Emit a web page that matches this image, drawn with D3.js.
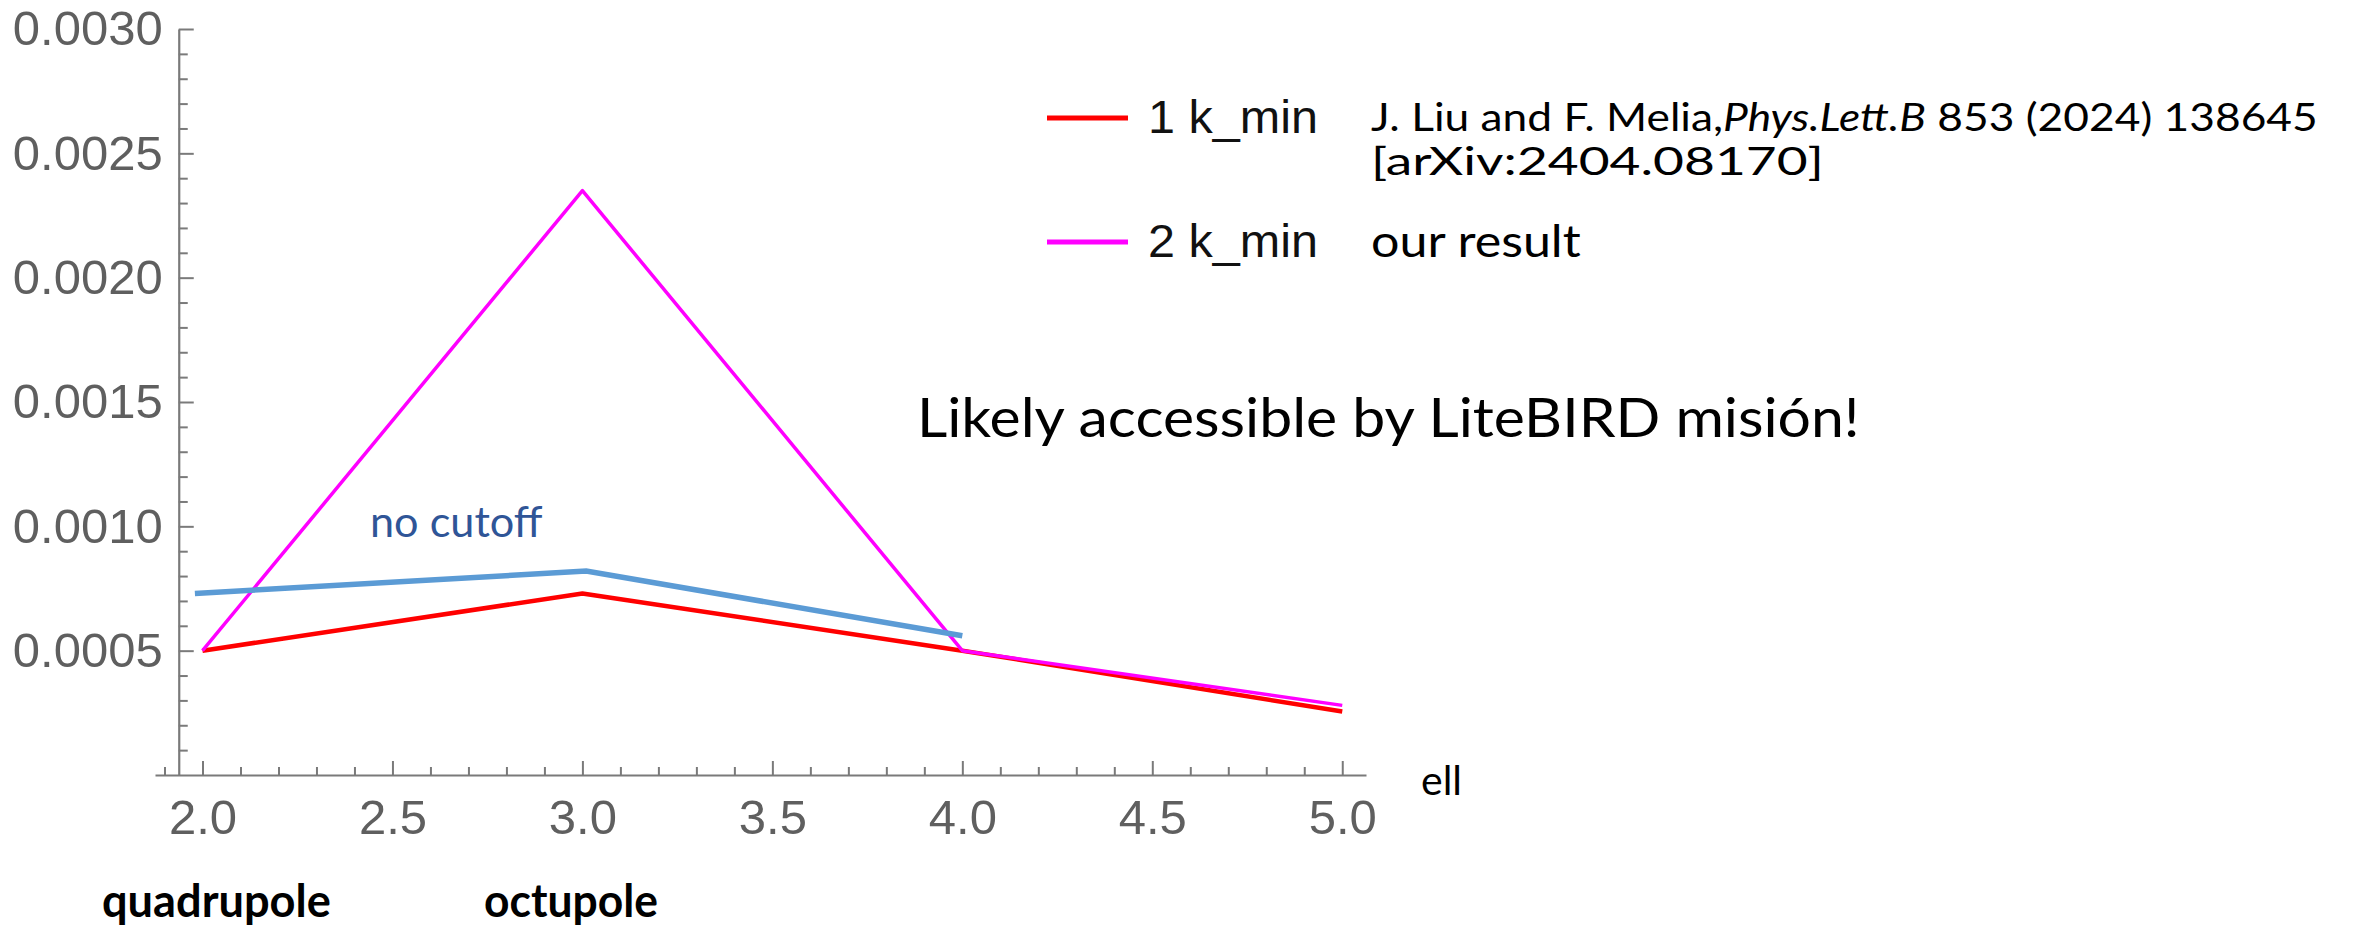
<!DOCTYPE html>
<html>
<head>
<meta charset="utf-8">
<script src="https://cdn.jsdelivr.net/npm/d3@7"></script>
<style>
  html, body { margin: 0; padding: 0; background: #fff; }
  .tick text { font-family: "Liberation Sans", Arial, sans-serif; fill: #5f5f5f; }
  .note { font-family: Lato, "Open Sans", sans-serif; }
</style>
</head>
<body>
<div id="chart"></div>
<script>
// ---- data ----
const ells = [2, 3, 4, 5];
const oneKmin = [0.0005, 0.00073, 0.0005, 0.000255];   // red, Liu & Melia
const twoKmin = [0.0005, 0.00235, 0.0005, 0.00028];    // magenta, our result
const noCutoffEll = [1.98, 3.01, 4.0];
const noCutoff = [0.00073, 0.00082, 0.00056];           // blue hand-drawn line
const xTicks = [2, 2.5, 3, 3.5, 4, 4.5, 5];
const yTicks = [0.0005, 0.001, 0.0015, 0.002, 0.0025, 0.003];

const W = 2356, H = 929;

const svg = d3.select('#chart').append('svg')
    .attr('width', W)
    .attr('height', H);

svg.append('rect').attr('width', W).attr('height', H).attr('fill', '#fff');

// Scales (axis runs a bit past both ends like Mathematica does)
const x = d3.scaleLinear().domain([1.875, 5.0625]).range([155, 1366]);
const y = d3.scaleLinear().domain([0, 0.003]).range([775, 29]);
const yAxisAt = 1.9375;

// stretch/squeeze a text horizontally so it spans the given width
function fitText(sel, x0, width) {
    const w = sel.node().getBBox().width;
    const s = width / w;
    sel.attr('transform', `translate(${x0},0) scale(${s},1) translate(${-x0},0)`);
}

// -------------- Axes --------------
const axisColor = '#7a7a7a';

const minorX = d3.range(19, 51).map(d => d / 10).filter(d => Math.abs(d * 2 - Math.round(d * 2)) > 1e-6);
const minorY = d3.range(1, 30).map(d => d / 10000).filter(d => d % 0.0005 > 1e-9 && 0.0005 - (d % 0.0005) > 1e-9);

const gx = svg.append('g').attr('transform', `translate(0,${y(0)})`);
gx.call(d3.axisBottom(x).tickValues(xTicks).tickFormat(d3.format('.1f'))
    .tickSizeInner(-14).tickSizeOuter(0).tickPadding(24));
gx.append('g').call(d3.axisBottom(x).tickValues(minorX).tickFormat('')
    .tickSizeInner(-8).tickSizeOuter(0))
  .select('.domain').remove();

const gy = svg.append('g').attr('transform', `translate(${x(yAxisAt)},0)`);
gy.call(d3.axisLeft(y).tickValues(yTicks).tickFormat(d3.format('.4f'))
    .tickSizeInner(-15).tickSizeOuter(0).tickPadding(16));
gy.append('g').call(d3.axisLeft(y).tickValues(minorY).tickFormat('')
    .tickSizeInner(-9).tickSizeOuter(0))
  .select('.domain').remove();

svg.selectAll('.domain').attr('stroke', axisColor).attr('stroke-width', 2.2);
svg.selectAll('.tick line').attr('stroke', axisColor).attr('stroke-width', 2);
svg.selectAll('.tick text').attr('font-size', 49);

// -------------- Lines --------------
const line = d3.line().x(d => x(d[0])).y(d => y(d[1]));

svg.append('path')
    .datum(ells.map((e, i) => [e, oneKmin[i]]))
    .attr('d', line)
    .attr('fill', 'none')
    .attr('stroke', '#ff0000')
    .attr('stroke-width', 4.5)
    .attr('stroke-linejoin', 'round');

svg.append('path')
    .datum(ells.map((e, i) => [e, twoKmin[i]]))
    .attr('d', line)
    .attr('fill', 'none')
    .attr('stroke', '#ff00ff')
    .attr('stroke-width', 3.5)
    .attr('stroke-linejoin', 'round');

svg.append('path')
    .datum(noCutoffEll.map((e, i) => [e, noCutoff[i]]))
    .attr('d', line)
    .attr('fill', 'none')
    .attr('stroke', '#5b9bd5')
    .attr('stroke-width', 5.5);

// -------------- Legend --------------
const legend = [
    { color: '#ff0000', label: '1 k_min', y: 118 },
    { color: '#ff00ff', label: '2 k_min', y: 242 }
];
legend.forEach(d => {
    svg.append('line')
        .attr('x1', 1047).attr('x2', 1128)
        .attr('y1', d.y).attr('y2', d.y)
        .attr('stroke', d.color)
        .attr('stroke-width', 5);
    const t = svg.append('text')
        .attr('x', 1148).attr('y', d.y + 15)
        .attr('font-family', '"Liberation Sans", Arial, sans-serif')
        .attr('font-size', 46)
        .attr('fill', '#111')
        .text(d.label);
    fitText(t, 1148, 170);
});

// -------------- Annotations --------------
function note(txt, x0, yb, size, width, opts = {}) {
    const t = svg.append('text')
        .attr('class', 'note')
        .attr('x', x0).attr('y', yb)
        .attr('font-size', size)
        .attr('font-weight', opts.bold ? 700 : 400)
        .attr('fill', opts.color || '#000')
        .text(txt);
    if (width) fitText(t, x0, width);
    return t;
}

// reference line with italic journal name
const cite = svg.append('text')
    .attr('class', 'note')
    .attr('x', 1371).attr('y', 131)
    .attr('font-size', 38);
cite.append('tspan').text('J. Liu and F. Melia,');
cite.append('tspan').attr('font-style', 'italic').text('Phys.Lett.B');
cite.append('tspan').text(' 853 (2024) 138645');
fitText(cite, 1371, 947);

note('[arXiv:2404.08170]', 1371, 175, 38, 453);
note('our result', 1371, 257, 44, 210);
note('Likely accessible by LiteBIRD misión!', 917, 437, 55, 943);
note('no cutoff', 370, 537, 43, 173, { color: '#2f5597' });
note('ell', 1421, 795, 40, 41);
note('quadrupole', 102, 917, 45, 229, { bold: true });
note('octupole', 484, 917, 45, 174, { bold: true });
</script>
</body>
</html>
